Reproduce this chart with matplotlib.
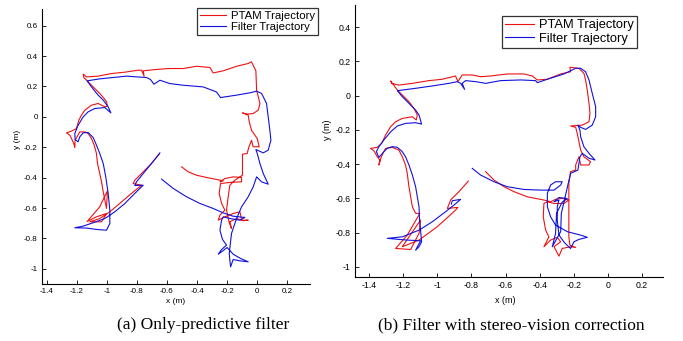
import numpy as np
import matplotlib
matplotlib.use("Agg")
import matplotlib.pyplot as plt
from matplotlib.ticker import FuncFormatter

plt.rcParams['font.family'] = ['Liberation Sans', 'DejaVu Sans']
plt.rcParams['axes.unicode_minus'] = False

# ---- panel (a): only-predictive filter ----
a_ptam_x = [-0.503, -0.459, -0.404, -0.337, -0.271, -0.226, -0.248, -0.215, -0.160, -0.104, -0.104, -0.160,
            -0.204, -0.244, -0.253, -0.237, -0.215, -0.248, -0.259, -0.215, -0.160, -0.115, -0.104, -0.060,
            -0.093, -0.137, -0.182, -0.171, -0.186, -0.204, -0.193, -0.182, -0.149, -0.098, -0.098, -0.098,
            -0.067, -0.055, -0.038, -0.027, 0.013, 0.000, -0.038, -0.053, -0.060, -0.098, -0.067, -0.027,
            0.007, 0.018, -0.004, -0.009, -0.038, -0.060, -0.137, -0.226, -0.293, -0.315, -0.404, -0.492,
            -0.592, -0.681, -0.758, -0.752, -0.769, -0.792, -0.880, -0.969, -1.058, -1.135, -1.157, -1.153,
            -1.113, -1.080, -1.047, -1.018, -1.002, -0.996, -1.013, -1.058, -1.102, -1.146, -1.169, -1.186,
            -1.202, -1.235, -1.268, -1.246, -1.235, -1.220, -1.213, -1.211, -1.180, -1.146, -1.124, -1.102,
            -1.084, -1.069, -1.062, -1.047, -1.035, -1.024, -1.013, -1.002, -0.996, -1.047, -1.131, -1.069,
            -1.002, -1.035, -1.113, -1.047, -0.980, -0.914, -0.836, -0.769, -0.825, -0.814, -0.758, -0.703,
            -0.652]
a_ptam_y = [-0.329, -0.362, -0.384, -0.399, -0.412, -0.421, -0.428, -0.406, -0.395, -0.399, -0.428, -0.430,
            -0.434, -0.439, -0.504, -0.570, -0.614, -0.647, -0.680, -0.658, -0.636, -0.625, -0.680, -0.680,
            -0.684, -0.669, -0.691, -0.735, -0.697, -0.614, -0.526, -0.450, -0.417, -0.384, -0.329, -0.246,
            -0.241, -0.197, -0.154, -0.197, -0.197, -0.143, -0.088, -0.033, 0.011, 0.026, 0.018, 0.022,
            0.044, 0.088, 0.175, 0.303, 0.362, 0.351, 0.333, 0.303, 0.289, 0.325, 0.333, 0.318,
            0.318, 0.311, 0.303, 0.268, 0.307, 0.307, 0.294, 0.285, 0.268, 0.263, 0.281, 0.259,
            0.219, 0.186, 0.154, 0.121, 0.099, 0.070, 0.066, 0.088, 0.077, 0.044, 0.011, -0.022,
            -0.077, -0.094, -0.105, -0.121, -0.143, -0.175, -0.202, -0.154, -0.099, -0.099, -0.110, -0.143,
            -0.186, -0.241, -0.307, -0.373, -0.428, -0.493, -0.548, -0.603, -0.487, -0.592, -0.689, -0.658,
            -0.636, -0.691, -0.691, -0.669, -0.625, -0.570, -0.504, -0.450, -0.439, -0.417, -0.362, -0.307,
            -0.246]

a_filt_x = [-0.636, -0.559, -0.470, -0.381, -0.293, -0.226, -0.160, -0.082, -0.115, -0.182, -0.226, -0.237,
            -0.248, -0.231, -0.204, -0.237, -0.259, -0.229, -0.200, -0.160, -0.111, -0.060, -0.120, -0.160,
            -0.177, -0.182, -0.186, -0.171, -0.149, -0.137, -0.104, -0.060, -0.027, -0.004, 0.029, 0.073,
            0.040, 0.018, 0.000, -0.009, 0.040, 0.073, 0.091, 0.084, 0.073, 0.062, 0.029, -0.004,
            -0.049, -0.137, -0.244, -0.271, -0.359, -0.492, -0.581, -0.647, -0.687, -0.710, -0.736, -0.803,
            -0.869, -0.958, -1.047, -1.131, -1.102, -1.058, -1.024, -0.991, -0.973, -1.013, -1.080, -1.124,
            -1.157, -1.191, -1.213, -1.211, -1.191, -1.180, -1.157, -1.124, -1.091, -1.069, -1.047, -1.024,
            -1.007, -0.991, -0.980, -0.980, -1.002, -1.069, -1.135, -1.213, -1.157, -1.091, -1.013, -0.947,
            -0.880, -0.814, -0.758, -0.814, -0.803, -0.758, -0.703, -0.647]
a_filt_y = [-0.410, -0.471, -0.526, -0.570, -0.603, -0.632, -0.654, -0.662, -0.680, -0.669, -0.658, -0.680,
            -0.746, -0.807, -0.844, -0.873, -0.904, -0.882, -0.860, -0.904, -0.932, -0.954, -0.947, -0.939,
            -0.987, -0.943, -0.899, -0.768, -0.702, -0.669, -0.592, -0.526, -0.461, -0.395, -0.428, -0.443,
            -0.373, -0.307, -0.241, -0.215, -0.237, -0.219, -0.154, -0.088, 0.000, 0.088, 0.154, 0.169,
            0.158, 0.143, 0.127, 0.164, 0.197, 0.208, 0.219, 0.241, 0.215, 0.246, 0.259, 0.263,
            0.268, 0.259, 0.250, 0.237, 0.197, 0.143, 0.110, 0.066, 0.026, 0.061, 0.055, 0.033,
            0.000, -0.055, -0.110, -0.149, -0.164, -0.132, -0.105, -0.103, -0.136, -0.186, -0.241, -0.307,
            -0.395, -0.504, -0.614, -0.702, -0.746, -0.741, -0.732, -0.730, -0.719, -0.697, -0.669, -0.625,
            -0.570, -0.504, -0.450, -0.452, -0.428, -0.373, -0.307, -0.237]

# ---- panel (b): filter with stereo-vision correction ----
b_ptam_x = [-0.717, -0.668, -0.609, -0.551, -0.473, -0.375, -0.336, -0.307, -0.268, -0.229, -0.258, -0.316,
            -0.355, -0.375, -0.379, -0.365, -0.346, -0.375, -0.336, -0.297, -0.277, -0.316, -0.287, -0.268,
            -0.219, -0.189, -0.223, -0.229, -0.229, -0.229, -0.229, -0.219, -0.189, -0.189, -0.170, -0.160,
            -0.111, -0.102, -0.141, -0.160, -0.170, -0.180, -0.189, -0.219, -0.150, -0.111, -0.105, -0.111,
            -0.121, -0.131, -0.141, -0.170, -0.223, -0.219, -0.277, -0.355, -0.414, -0.443, -0.492, -0.590,
            -0.688, -0.746, -0.795, -0.854, -0.879, -0.893, -0.971, -1.049, -1.146, -1.225, -1.268, -1.273,
            -1.234, -1.205, -1.166, -1.137, -1.117, -1.123, -1.146, -1.205, -1.244, -1.273, -1.303, -1.326,
            -1.352, -1.391, -1.371, -1.352, -1.336, -1.342, -1.328, -1.303, -1.264, -1.225, -1.205, -1.186,
            -1.176, -1.166, -1.156, -1.146, -1.127, -1.102, -1.176, -1.244, -1.156, -1.107, -1.098, -1.205,
            -1.107, -1.000, -0.893, -0.879, -0.941, -0.922, -0.873, -0.818]
b_ptam_y = [-0.444, -0.493, -0.532, -0.561, -0.591, -0.610, -0.620, -0.606, -0.600, -0.610, -0.630, -0.630,
            -0.620, -0.630, -0.708, -0.786, -0.825, -0.883, -0.844, -0.828, -0.854, -0.883, -0.938, -0.893,
            -0.883, -0.887, -0.873, -0.825, -0.708, -0.610, -0.513, -0.444, -0.435, -0.405, -0.357, -0.405,
            -0.405, -0.386, -0.357, -0.318, -0.269, -0.220, -0.185, -0.177, -0.172, -0.152, -0.103, -0.045,
            0.033, 0.092, 0.131, 0.160, 0.166, 0.140, 0.127, 0.096, 0.092, 0.115, 0.127, 0.127,
            0.115, 0.111, 0.121, 0.121, 0.082, 0.115, 0.096, 0.088, 0.072, 0.062, 0.072, 0.086,
            0.033, 0.004, -0.035, -0.074, -0.113, -0.142, -0.123, -0.133, -0.152, -0.181, -0.230, -0.279,
            -0.302, -0.308, -0.322, -0.357, -0.376, -0.405, -0.357, -0.308, -0.302, -0.318, -0.357, -0.405,
            -0.454, -0.532, -0.591, -0.649, -0.688, -0.688, -0.815, -0.893, -0.899, -0.805, -0.727, -0.883,
            -0.844, -0.766, -0.669, -0.653, -0.659, -0.610, -0.561, -0.499]

b_filt_x = [-0.795, -0.746, -0.668, -0.590, -0.492, -0.395, -0.316, -0.277, -0.268, -0.307, -0.336, -0.355,
            -0.355, -0.336, -0.307, -0.238, -0.160, -0.121, -0.170, -0.199, -0.219, -0.254, -0.287, -0.297,
            -0.297, -0.287, -0.316, -0.287, -0.238, -0.268, -0.301, -0.307, -0.326, -0.277, -0.273, -0.219,
            -0.176, -0.164, -0.150, -0.111, -0.076, -0.111, -0.141, -0.160, -0.164, -0.176, -0.160, -0.131,
            -0.092, -0.072, -0.072, -0.092, -0.111, -0.131, -0.160, -0.189, -0.258, -0.355, -0.414, -0.424,
            -0.512, -0.629, -0.717, -0.775, -0.834, -0.854, -0.840, -0.863, -0.883, -0.932, -1.029, -1.127,
            -1.205, -1.234, -1.205, -1.166, -1.127, -1.107, -1.092, -1.127, -1.186, -1.234, -1.273, -1.313,
            -1.342, -1.357, -1.342, -1.313, -1.293, -1.264, -1.234, -1.205, -1.186, -1.166, -1.146, -1.127,
            -1.117, -1.107, -1.104, -1.098, -1.092, -1.107, -1.127, -1.098, -1.176, -1.225, -1.293, -1.205,
            -1.107, -1.029, -0.951, -0.902, -0.863, -0.912, -0.918]
b_filt_y = [-0.425, -0.464, -0.503, -0.532, -0.548, -0.552, -0.552, -0.522, -0.503, -0.503, -0.522, -0.571,
            -0.649, -0.708, -0.756, -0.795, -0.815, -0.828, -0.840, -0.854, -0.893, -0.860, -0.815, -0.727,
            -0.649, -0.610, -0.620, -0.595, -0.602, -0.622, -0.688, -0.805, -0.883, -0.795, -0.688, -0.454,
            -0.435, -0.357, -0.337, -0.366, -0.376, -0.337, -0.298, -0.240, -0.201, -0.172, -0.185, -0.197,
            -0.172, -0.123, -0.064, 0.014, 0.092, 0.140, 0.160, 0.160, 0.127, 0.096, 0.076, 0.088,
            0.092, 0.088, 0.072, 0.082, 0.088, 0.072, 0.037, 0.072, 0.082, 0.072, 0.057, 0.043,
            0.033, 0.029, -0.006, -0.045, -0.084, -0.113, -0.166, -0.158, -0.162, -0.177, -0.211, -0.259,
            -0.298, -0.327, -0.361, -0.327, -0.308, -0.298, -0.302, -0.327, -0.357, -0.405, -0.464, -0.532,
            -0.591, -0.649, -0.727, -0.786, -0.854, -0.883, -0.903, -0.848, -0.844, -0.840, -0.834, -0.825,
            -0.786, -0.737, -0.678, -0.639, -0.606, -0.614, -0.634]

a_xticks = [-1.4, -1.2, -1, -0.8, -0.6, -0.4, -0.2, 0, 0.2]
a_yticks = [-1, -0.8, -0.6, -0.4, -0.2, 0, 0.2, 0.4, 0.6]
b_xticks = [-1.4, -1.2, -1, -0.8, -0.6, -0.4, -0.2, 0, 0.2]
b_yticks = [-1, -0.8, -0.6, -0.4, -0.2, 0, 0.2, 0.4]

fmt = FuncFormatter(lambda v, p: f"{v:g}")


def style_axes(ax, xticks, yticks, fs):
    ax.spines['top'].set_visible(False)
    ax.spines['right'].set_visible(False)
    ax.spines['left'].set_linewidth(0.8)
    ax.spines['bottom'].set_linewidth(0.8)
    ax.set_xticks(xticks)
    ax.set_yticks(yticks)
    ax.xaxis.set_major_formatter(fmt)
    ax.yaxis.set_major_formatter(fmt)
    ax.tick_params(direction='in', length=3, width=0.6, labelsize=fs, pad=3)


fig = plt.figure(figsize=(6.83, 3.41), dpi=100)

ax1 = fig.add_axes([0.0615, 0.1672, 0.3924, 0.8065])
ax1.plot(a_ptam_x, a_ptam_y, color='#ee1111', lw=0.8, label='PTAM Trajectory')
ax1.plot(a_filt_x, a_filt_y, color='#1111dd', lw=0.8, label='Filter Trajectory')
ax1.set_xlim(-1.431, 0.351)
ax1.set_ylim(-1.10, 0.71)
style_axes(ax1, a_xticks, a_yticks, 5.8)
ax1.set_xlabel('x (m)', fontsize=6, va='center')
ax1.set_ylabel('y (m)', fontsize=6, va='center')
ax1.xaxis.set_label_coords(0.5, -0.065)
ax1.yaxis.set_label_coords(-0.09, 0.524)
fig.legend(handles=ax1.get_lines(), loc='upper right', bbox_to_anchor=(0.4656, 0.9765),
           fontsize=8.2, frameon=True, fancybox=False, edgecolor='black', handlelength=2.3,
           borderpad=0.25, labelspacing=0.1, handletextpad=0.4, borderaxespad=0).get_frame().set_linewidth(0.9)

ax2 = fig.add_axes([0.5193, 0.1886, 0.451, 0.7967])
ax2.plot(b_ptam_x, b_ptam_y, color='#ee1111', lw=0.8, label='PTAM Trajectory')
ax2.plot(b_filt_x, b_filt_y, color='#1111dd', lw=0.8, label='Filter Trajectory')
ax2.set_xlim(-1.484, 0.321)
ax2.set_ylim(-1.058, 0.53)
style_axes(ax2, b_xticks, b_yticks, 6.3)
ax2.set_xlabel('x (m)', fontsize=6.5, va='center')
ax2.set_ylabel('y (m)', fontsize=6.5, va='center')
ax2.xaxis.set_label_coords(0.488, -0.086)
ax2.yaxis.set_label_coords(-0.087, 0.54)
fig.legend(handles=ax2.get_lines(), loc='upper right', bbox_to_anchor=(0.9327, 0.953),
           fontsize=9.3, frameon=True, fancybox=False, edgecolor='black', handlelength=2.2,
           borderpad=0.25, labelspacing=0.1, handletextpad=0.4, borderaxespad=0).get_frame().set_linewidth(0.9)

fig.text(0.297, 0.047, '(a) Only-predictive filter', family=['Liberation Serif', 'DejaVu Serif'],
         fontsize=12.5, ha='center', va='center')
fig.text(0.748, 0.047, '(b) Filter with stereo-vision correction', family=['Liberation Serif', 'DejaVu Serif'],
         fontsize=12.5, ha='center', va='center')

fig.savefig('out.png', dpi=100)
